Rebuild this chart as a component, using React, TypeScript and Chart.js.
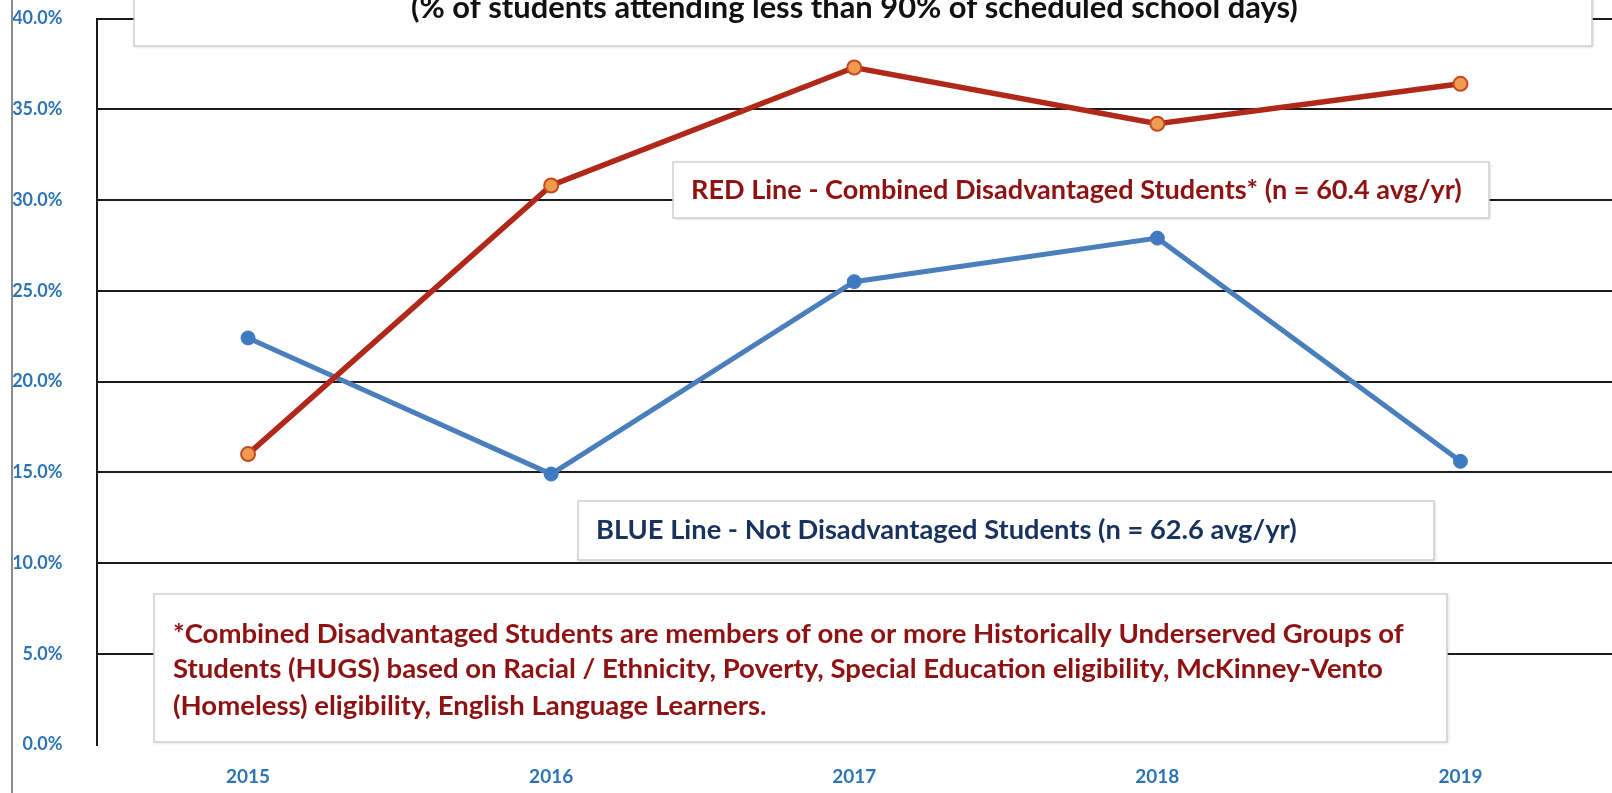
import React, { useEffect, useRef } from 'react';
import { Chart, registerables } from 'chart.js';

Chart.register(...registerables);

const years = ['2015', '2016', '2017', '2018', '2019'];
const disadvantaged = [16.0, 30.8, 37.3, 34.2, 36.4];
const notDisadvantaged = [22.4, 14.9, 25.5, 27.9, 15.6];
const yMin = 0;
const yMax = 40;
const yStep = 5;

const titleText = '(% of students attending less than 90% of scheduled school days)';
const redLabel = 'RED Line - Combined Disadvantaged Students* (n = 60.4 avg/yr)';
const blueLabel = 'BLUE Line - Not Disadvantaged Students (n = 62.6 avg/yr)';
const footnoteLines = [
  '*Combined Disadvantaged Students are members of one or more Historically Underserved Groups of',
  'Students (HUGS) based on Racial / Ethnicity, Poverty, Special Education eligibility, McKinney-Vento',
  '(Homeless) eligibility, English Language Learners.',
];

const FONT = 'Lato, "Open Sans", "DejaVu Sans", sans-serif';
const AXIS_BLUE = '#2E74B5';
const DARK_RED = '#8E1212';
const NAVY = '#17325C';

function fitSize(ctx: CanvasRenderingContext2D, text: string, width: number) {
  ctx.font = `bold 20px ${FONT}`;
  const w = ctx.measureText(text).width;
  return (20 * width) / w;
}

function drawBox(ctx: CanvasRenderingContext2D, x1: number, y1: number, x2: number, y2: number) {
  ctx.save();
  ctx.shadowColor = 'rgba(0,0,0,0.18)';
  ctx.shadowBlur = 3;
  ctx.shadowOffsetX = 1;
  ctx.shadowOffsetY = 1;
  ctx.fillStyle = '#ffffff';
  ctx.fillRect(x1, y1, x2 - x1, y2 - y1);
  ctx.restore();
  ctx.save();
  ctx.strokeStyle = '#cfcfcf';
  ctx.lineWidth = 1.5;
  ctx.strokeRect(x1, y1, x2 - x1, y2 - y1);
  ctx.restore();
}

const annotationPlugin = {
  id: 'annotations',
  beforeDatasetsDraw(chart: any) {
    const ctx: CanvasRenderingContext2D = chart.ctx;
    ctx.save();
    // title box (cut off at top)
    drawBox(ctx, 134, -20, 1592, 46);
    let s = fitSize(ctx, titleText, 887);
    ctx.font = `bold ${s}px ${FONT}`;
    ctx.fillStyle = '#111111';
    ctx.textAlign = 'left';
    ctx.textBaseline = 'alphabetic';
    ctx.fillText(titleText, 411, 18);

    // red label
    drawBox(ctx, 673, 162, 1489, 218);
    s = fitSize(ctx, redLabel, 771);
    ctx.font = `bold ${s}px ${FONT}`;
    ctx.fillStyle = DARK_RED;
    ctx.textBaseline = 'middle';
    ctx.fillText(redLabel, 691, 190);

    // blue label
    drawBox(ctx, 578, 501, 1434, 560);
    s = fitSize(ctx, blueLabel, 701);
    ctx.font = `bold ${s}px ${FONT}`;
    ctx.fillStyle = NAVY;
    ctx.fillText(blueLabel, 596, 530);

    // footnote
    drawBox(ctx, 154, 594, 1447, 742);
    s = fitSize(ctx, footnoteLines[0], 1231);
    ctx.font = `bold ${s}px ${FONT}`;
    ctx.fillStyle = DARK_RED;
    const ys = [634, 669, 706];
    footnoteLines.forEach((t, i) => ctx.fillText(t, 173, ys[i]));
    ctx.restore();
  },
  afterDraw(chart: any) {
    const ctx: CanvasRenderingContext2D = chart.ctx;
    ctx.save();
    ctx.strokeStyle = '#8a8a8a';
    ctx.lineWidth = 2;
    ctx.beginPath();
    ctx.moveTo(12, 0);
    ctx.lineTo(12, 793);
    ctx.stroke();
    ctx.restore();
  },
};

export default function App() {
  const ref = useRef<HTMLCanvasElement | null>(null);

  useEffect(() => {
    document.body.style.margin = '0';
    if (!ref.current) return;
    const chart = new Chart(ref.current, {
      type: 'line',
      data: {
        labels: years,
        datasets: [
          {
            label: 'Combined Disadvantaged Students',
            data: disadvantaged,
            borderColor: '#B0281A',
            borderWidth: 5.5,
            pointRadius: 7,
            pointBorderWidth: 2,
            pointBackgroundColor: '#EE9A50',
            pointBorderColor: '#C44A1C',
            tension: 0,
          },
          {
            label: 'Not Disadvantaged Students',
            data: notDisadvantaged,
            borderColor: '#4A7EBD',
            borderWidth: 5,
            pointRadius: 7,
            pointBorderWidth: 1,
            pointBackgroundColor: '#3F79C0',
            pointBorderColor: '#3F79C0',
            tension: 0,
          },
        ],
      },
      options: {
        responsive: false,
        animation: false,
        layout: { autoPadding: false, padding: { top: 18.5, left: 0, right: 0, bottom: 0 } },
        plugins: {
          legend: { display: false },
          title: { display: false },
          tooltip: { enabled: false },
        },
        scales: {
          x: {
            type: 'category',
            offset: true,
            grid: {
              display: true,
              drawOnChartArea: false,
              drawTicks: true,
              tickLength: 21,
              color: 'rgba(0,0,0,0)',
              tickColor: 'rgba(0,0,0,0)',
            },
            border: { display: false },
            ticks: {
              color: AXIS_BLUE,
              font: { family: FONT, weight: 'bold', size: 19 },
              padding: 0,
              maxRotation: 0,
            },
            afterFit: (scale: any) => {
              scale.height = 48.5;
              scale.paddingLeft = 0;
              scale.paddingRight = 0;
            },
          },
          y: {
            min: yMin,
            max: yMax,
            ticks: {
              stepSize: yStep,
              color: AXIS_BLUE,
              font: { family: FONT, weight: 'bold', size: 18 },
              padding: 34,
              callback: (v: any) => Number(v).toFixed(1) + '%',
            },
            grid: {
              drawTicks: false,
              color: (c: any) => (c.tick && c.tick.value === 0 ? 'rgba(0,0,0,0)' : '#1a1a1a'),
              lineWidth: 2,
            },
            border: { display: true, color: '#1a1a1a', width: 2 },
            afterFit: (scale: any) => {
              scale.width = 96.5;
              scale.paddingTop = 0;
              scale.paddingBottom = 0;
            },
          },
        },
      },
      plugins: [annotationPlugin],
    });
    return () => chart.destroy();
  }, []);

  return (
    <div style={{ width: 1612, height: 793, overflow: 'hidden', background: '#fff' }}>
      <canvas ref={ref} width={1612} height={793} style={{ display: 'block' }} />
    </div>
  );
}
